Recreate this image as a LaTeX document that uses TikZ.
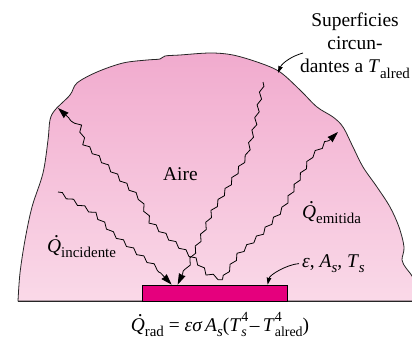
\documentclass[tikz,border=0pt]{standalone}
\usepackage{fontspec}
\setmainfont{Liberation Serif}
\usetikzlibrary{arrows.meta,decorations.pathmorphing,positioning}

\definecolor{airtop}{RGB}{241,171,206}
\definecolor{airbot}{RGB}{250,217,232}
\definecolor{surf}{RGB}{229,0,125}

\newcommand{\Qd}{\makebox[0pt][l]{\hspace{0.36em}\raisebox{0.74em}{.}}\textit{Q}}
\newcommand{\subtxt}[1]{\raisebox{-0.3em}{\fontsize{15}{15}\selectfont #1}}
\newcommand{\supsubtxt}[2]{\makebox[0pt][l]{\raisebox{0.5em}{\fontsize{14}{14}\selectfont #1}}\raisebox{-0.3em}{\fontsize{14}{14}\selectfont #2}}

\tikzset{
  lbl/.style={inner sep=0pt, font=\fontsize{19.5}{23}\selectfont},
  surface/.style={draw, fill=surf, line width=0.7bp, minimum width=145bp, minimum height=16bp, inner sep=0pt},
  ray/.style={line width=0.8bp, decorate,
    decoration={snake, amplitude=1.7bp, segment length=13bp, post length=10bp},
    -{Stealth[length=11bp, width=7bp, inset=0.5bp]}},
  leader/.style={line width=0.8bp, -{Stealth[length=7bp, width=4.5bp, inset=0.5bp]}}
}

\begin{document}
\begin{tikzpicture}[x=1bp, y=-1bp]
  \useasboundingbox (0,0) rectangle (412,347);

  % surroundings, filled with air
  \path[draw=black!85, line width=0.8bp, top color=airtop, bottom color=airbot]
    plot[smooth, tension=0.55] coordinates {
      (18,301) (20,273) (25,240) (32,207) (43,173) (48,140) (50,120) (55,110)
      (70,95) (77,83) (97,72) (123,63) (147,60) (160,59) (165,56) (180,55)
      (210,53) (233,55) (260,63) (280,72) (300,90) (317,107) (333,117)
      (343,127) (353,147) (363,167) (377,187) (390,207) (399,227) (404,247)
      (402,260) (406,268) (412,276) (418,290) (418,301)} -- cycle;
  \draw[black!85, line width=0.9bp] (18,301) -- (412,301);

  \node[surface] (pad) at (214.5,293) {};

  \coordinate (src)  at ([xshift=8bp, yshift=5bp]pad.north);
  \coordinate (hit1) at ([xshift=30bp]pad.north west);
  \coordinate (hit2) at ([xshift=36bp]pad.north west);
  \coordinate (hit3) at ([xshift=126bp]pad.north west);
  \coordinate (wl)   at (58,108);
  \coordinate (wr)   at (338,132);
  \coordinate (top)  at (263,82);
  \coordinate (side) at (58,192);
  \coordinate (rim)  at (278,73);
  \coordinate (supl) at (303,53);

  % radiation
  \draw[ray] (src) -- (208,274) -- (198,262) -- (172,241) -- (150,222) -- (140,200) -- (120,180) -- (100,160) -- (84,145) -- (80,128) -- (wl);
  \draw[ray] (src) -- (236,258) -- (262,235) -- (283,210) -- (298,182) -- (312,157) -- (wr);
  \draw[ray] (top) -- (256,120) -- (248,150) -- (230,180) -- (212,208) -- (198,240) -- (hit2);
  \draw[ray] (side) -- (92,212) -- (110,232) -- (135,252) -- (156,268) -- (hit1);

  % labels
  \node[lbl, anchor=base west] (aire)  at (163,180) {Aire};
  \node[lbl, anchor=base west] (qemit) at (302,218) {\Qd\subtxt{emitida}};
  \node[lbl, anchor=base west] (qinc)  at (47,252) {\Qd\subtxt{incidente}};
  \node[lbl, anchor=base west] (props) at (302,267) {\textit{ε}, \textit{A}\subtxt{\textit{s}}, \textit{T}\subtxt{\textit{s}}};
  \node[lbl, align=center, anchor=north] (surr) at (355,13) {Superficies\\circun-\\dantes a \textit{T}\subtxt{alred}};
  \node[lbl, anchor=base] (law) at (220,331)
    {\Qd\subtxt{rad} = \textit{εσ\,A}\subtxt{\textit{s}}(\textit{T}\supsubtxt{4}{\textit{s}}\,–\,\textit{T}\supsubtxt{4}{alred})};

  \draw[leader] ([xshift=-3bp]props.west) .. controls +(-12,1) and +(2,-10) .. (hit3);
  \draw[leader] (supl) .. controls (292,56) and (282,63) .. (rim);
\end{tikzpicture}
\end{document}
